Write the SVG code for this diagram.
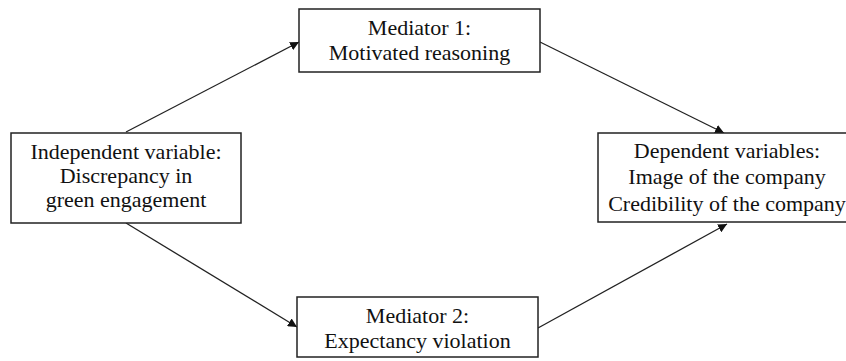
<svg xmlns="http://www.w3.org/2000/svg" width="846" height="361" viewBox="0 0 846 361">
<style>
.box{fill:#fff;stroke:#222;stroke-width:1.5}
.t{font-family:"Liberation Serif","Times New Roman",serif;font-size:22px;fill:#111;text-anchor:middle}
.c{stroke:#222;stroke-width:1.3;fill:none;marker-end:url(#ah)}
</style>
<defs>
<marker id="ah" viewBox="0 0 10 10" refX="10" refY="5" markerWidth="9" markerHeight="9" markerUnits="userSpaceOnUse" orient="auto">
<path d="M0,0 L10,5 L0,10 z" fill="#111"/>
</marker>
</defs>
<rect width="846" height="361" fill="#fff"/>
<g id="connectors">
<line class="c" x1="126" y1="132" x2="299" y2="42"/>
<line class="c" x1="540" y1="42" x2="724" y2="133"/>
<line class="c" x1="126" y1="223" x2="297" y2="327"/>
<line class="c" x1="538" y1="328" x2="727" y2="224"/>
</g>
<g id="independent">
<rect class="box" x="11" y="133" width="230" height="90"/>
<text class="t" x="126" y="159">Independent variable:</text>
<text class="t" x="126" y="183">Discrepancy in</text>
<text class="t" x="126" y="207">green engagement</text>
</g>
<g id="mediator1">
<rect class="box" x="299" y="9" width="241" height="63"/>
<text class="t" x="419.5" y="35">Mediator 1:</text>
<text class="t" x="419.5" y="60">Motivated reasoning</text>
</g>
<g id="mediator2">
<rect class="box" x="297" y="297" width="241" height="60"/>
<text class="t" x="417.5" y="323">Mediator 2:</text>
<text class="t" x="417.5" y="348">Expectancy violation</text>
</g>
<g id="dependent">
<rect class="box" x="598" y="133" width="250" height="89"/>
<text class="t" x="727" y="158">Dependent variables:</text>
<text class="t" x="727" y="184">Image of the company</text>
<text class="t" x="727" y="211">Credibility of the company</text>
</g>
</svg>
